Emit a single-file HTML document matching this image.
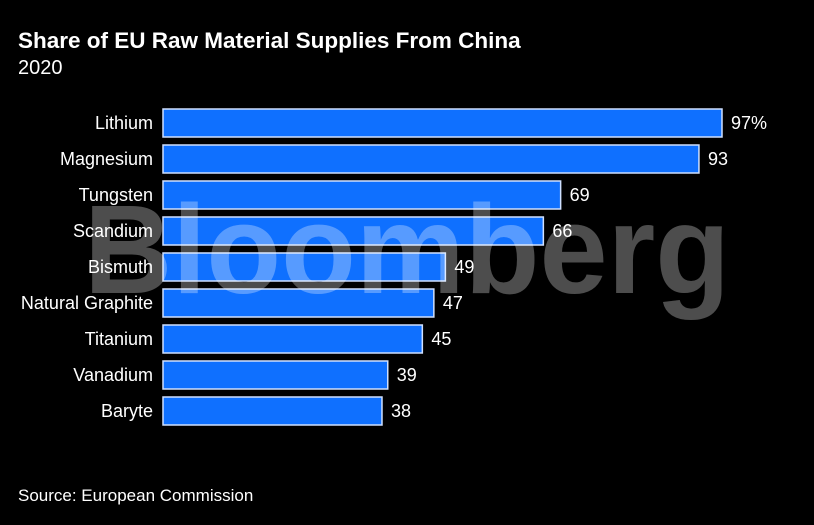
<!DOCTYPE html>
<html><head><meta charset="utf-8">
<style>
html,body{margin:0;padding:0;background:#000;}
body{width:814px;height:520px;overflow:hidden;font-family:"Liberation Sans",Arial,sans-serif;}
</style></head>
<body>
<svg id="chart" width="814" height="520" xmlns="http://www.w3.org/2000/svg">
<rect width="814" height="520" fill="#000"/>
<text x="18" y="48" fill="#fff" font-size="22.5" font-weight="bold">Share of EU Raw Material Supplies From China</text>
<text x="18" y="74" fill="#fff" font-size="20">2020</text>
<g id="bars"></g>
<text x="84" y="293" fill="#fff" fill-opacity="0.3" font-size="126" font-weight="bold" textLength="646" lengthAdjust="spacingAndGlyphs">Bloomberg</text>
<g id="labels"></g>
<text x="18" y="501" fill="#fff" font-size="17">Source: European Commission</text>
</svg>
<script>
const categories = ["Lithium","Magnesium","Tungsten","Scandium","Bismuth","Natural Graphite","Titanium","Vanadium","Baryte"];
const values = [97,93,69,66,49,47,45,39,38];
const valueLabels = ["97%","93","69","66","49","47","45","39","38"];

const ns="http://www.w3.org/2000/svg";
const x0=163, pxPerUnit=(722-163)/97;
const xScale=v=>x0+v*pxPerUnit;
const yTop=109, step=36, barH=28;
const yScale=i=>yTop+i*step;
const gb=document.getElementById('bars'), gl=document.getElementById('labels');
categories.forEach((c,i)=>{
  const r=document.createElementNS(ns,'rect');
  r.setAttribute('x',x0);r.setAttribute('y',yScale(i));
  r.setAttribute('width',xScale(values[i])-x0);r.setAttribute('height',barH);
  r.setAttribute('fill','#0f70ff');r.setAttribute('stroke','#cfe0ff');r.setAttribute('stroke-width','1.5');
  
  
  gb.appendChild(r);
  const t=document.createElementNS(ns,'text');
  t.setAttribute('x',153);t.setAttribute('y',yScale(i)+barH/2+6);
  t.setAttribute('text-anchor','end');t.setAttribute('fill','#fff');t.setAttribute('font-size','18');
  t.textContent=c;
  
  
  gl.appendChild(t);
  const v=document.createElementNS(ns,'text');
  v.setAttribute('x',xScale(values[i])+9);v.setAttribute('y',yScale(i)+barH/2+6);
  v.setAttribute('fill','#fff');v.setAttribute('font-size','18');
  v.textContent=valueLabels[i];
  
  
  gl.appendChild(v);
});
</script>
</body></html>
